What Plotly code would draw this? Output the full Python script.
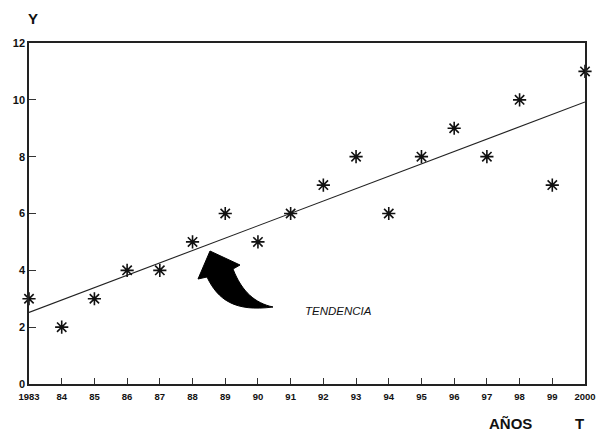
import numpy as np
import plotly.graph_objects as go

years = list(range(1983, 2001))
values = [3, 2, 3, 4, 4, 5, 6, 5, 6, 7, 8, 6, 8, 9, 8, 10, 7, 11]
tick_labels = ["1983", "84", "85", "86", "87", "88", "89", "90", "91", "92",
               "93", "94", "95", "96", "97", "98", "99", "2000"]
y_ticks = [0, 2, 4, 6, 8, 10, 12]

# least-squares trend
slope, intercept = np.polyfit(years, values, 1)
trend_x = [years[0], years[-1]]
trend_y = [intercept + slope * x for x in trend_x]

W, H = 600, 434
# plot rectangle in window pixels
PL, PR, PT, PB = 29, 585, 43, 384
L, R, T, B = PL, W - PR, PT, H - PB
X0, X1 = 1983, 2000
Y0, Y1 = 0, 12

def px2data(px, py):
    x = X0 + (px - PL) / (PR - PL) * (X1 - X0)
    y = Y0 + (PB - py) / (PB - PT) * (Y1 - Y0)
    return x, y

def px2paper(px, py):
    return (px - PL) / (PR - PL), (PB - py) / (PB - PT)

# curved arrow outline (window pixel positions of the decorative arrow)
arrow_px = [
    ("M", [(273, 307)]),
    ("C", [(255, 303), (242, 292), (233, 269)]),
    ("L", [(240, 265)]),
    ("L", [(210, 251)]),
    ("L", [(198, 279)]),
    ("L", [(207, 277)]),
    ("C", [(218, 300), (235, 312), (273, 307)]),
]
parts = []
for cmd, pts in arrow_px:
    coords = " ".join("%.4f,%.4f" % px2data(*p) for p in pts)
    parts.append(cmd + coords)
arrow_path = " ".join(parts) + " Z"

fig = go.Figure()
fig.add_trace(go.Scatter(
    x=trend_x, y=trend_y, mode="lines",
    line=dict(color="#222", width=1.1), hoverinfo="skip", showlegend=False))
fig.add_trace(go.Scatter(
    x=years, y=values, mode="markers",
    marker=dict(symbol="asterisk-open", size=11, color="#111",
                line=dict(color="#111", width=1.6)),
    showlegend=False, cliponaxis=False))

fig.add_shape(type="path", path=arrow_path, xref="x", yref="y",
              fillcolor="black", line=dict(color="black", width=1))

font_b = dict(family="Liberation Sans, Arial, sans-serif", color="#111")
tx, ty = px2data(338, 311)
fig.add_annotation(x=tx, y=ty, text="<i>TENDENCIA</i>", showarrow=False,
                   xanchor="center", yanchor="middle",
                   font=dict(size=11.5, **font_b))
for px, py, txt in [(33, 18, "Y"), (510, 424, "AÑOS"), (579, 424, "T")]:
    ax_, ay_ = px2paper(px, py)
    fig.add_annotation(xref="paper", yref="paper", x=ax_, y=ay_,
                       xanchor="center", yanchor="middle",
                       text="<b>%s</b>" % txt, showarrow=False,
                       font=dict(size=15, **font_b))

fig.update_layout(
    width=W, height=H,
    margin=dict(l=L, r=R, t=T, b=B, autoexpand=False),
    paper_bgcolor="white", plot_bgcolor="white",
    font=dict(family="Liberation Sans, Arial, sans-serif", color="#111"),
    xaxis=dict(range=[X0, X1], tickmode="array", tickvals=years,
               ticktext=["<b>%s</b>" % t for t in tick_labels],
               ticks="inside", ticklen=6, tickcolor="#333", tickwidth=1,
               showline=True, linecolor="#222", linewidth=1.5, mirror=True,
               showgrid=False, zeroline=False, tickfont=dict(size=9.5),
               ticklabelstandoff=3, automargin=False),
    yaxis=dict(range=[Y0, Y1], tickmode="array", tickvals=y_ticks,
               ticktext=["<b>%d</b>" % t for t in y_ticks],
               ticks="inside", ticklen=7, tickcolor="#333", tickwidth=1,
               showline=True, linecolor="#222", linewidth=1.5, mirror=True,
               showgrid=False, zeroline=False, tickfont=dict(size=11),
               automargin=False),
)

fig.write_html(
    "out.html",
    config={"displayModeBar": False},
    post_script="document.body.style.margin='0';"
                "document.body.style.overflow='hidden';")
